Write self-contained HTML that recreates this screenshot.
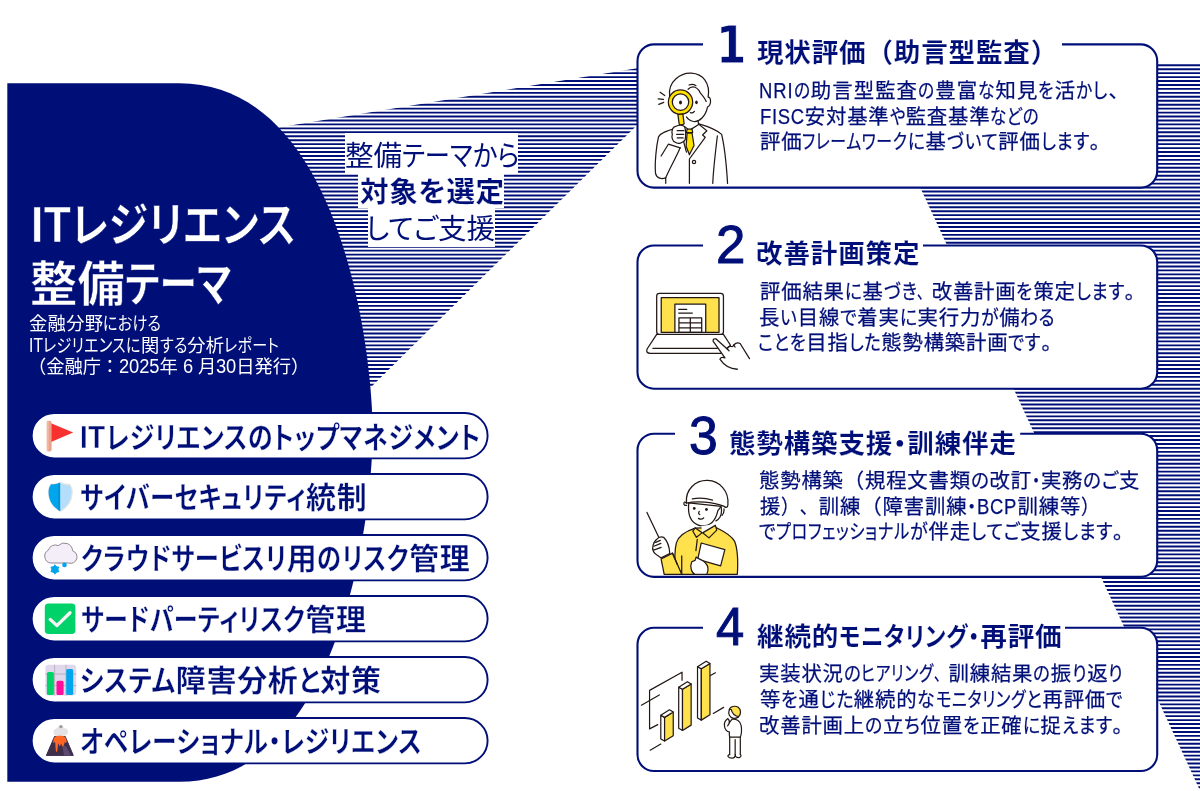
<!DOCTYPE html>
<html lang="ja"><head><meta charset="utf-8"><title>ITレジリエンス整備テーマ</title>
<style>
*{box-sizing:border-box}
html,body{margin:0;padding:0;background:#fff}
.t{will-change:transform;text-spacing-trim:space-all}
body{width:1200px;height:791px;position:relative;overflow:hidden;font-family:'Liberation Sans','Noto Sans CJK JP',sans-serif;color:#000f78}
.t{position:absolute;white-space:nowrap;line-height:1;margin:0;font-weight:400}
.s{display:inline-block;transform-origin:0 50%}
.p{font-feature-settings:'palt' 1}
.l{font-size:1.065em}
.lab{position:absolute;background:#fff}
svg{position:absolute;overflow:visible}
</style></head>
<body>
<svg width="1200" height="791" viewBox="0 0 1200 791" style="left:0;top:0" aria-hidden="true"><defs><clipPath id="sc"><path d="M200 140.4 640 67.8V122.2L300 457ZM862.6 63.3H1201V791H1200.2Z"/></clipPath></defs><path d="M0 57.36H1200M0 61.30H1200M0 65.25H1200M0 69.19H1200M0 73.14H1200M0 77.08H1200M0 81.03H1200M0 84.97H1200M0 88.92H1200M0 92.86H1200M0 96.81H1200M0 100.75H1200M0 104.69H1200M0 108.64H1200M0 112.58H1200M0 116.53H1200M0 120.47H1200M0 124.42H1200M0 128.36H1200M0 132.31H1200M0 136.25H1200M0 140.20H1200M0 144.14H1200M0 148.09H1200M0 152.03H1200M0 155.98H1200M0 159.92H1200M0 163.87H1200M0 167.81H1200M0 171.76H1200M0 175.70H1200M0 179.65H1200M0 183.59H1200M0 187.54H1200M0 191.48H1200M0 195.43H1200M0 199.37H1200M0 203.32H1200M0 207.26H1200M0 211.21H1200M0 215.15H1200M0 219.10H1200M0 223.04H1200M0 226.99H1200M0 230.93H1200M0 234.88H1200M0 238.82H1200M0 242.77H1200M0 246.71H1200M0 250.66H1200M0 254.60H1200M0 258.55H1200M0 262.49H1200M0 266.44H1200M0 270.38H1200M0 274.33H1200M0 278.27H1200M0 282.22H1200M0 286.16H1200M0 290.11H1200M0 294.05H1200M0 298.00H1200M0 301.94H1200M0 305.89H1200M0 309.83H1200M0 313.78H1200M0 317.72H1200M0 321.67H1200M0 325.61H1200M0 329.56H1200M0 333.50H1200M0 337.45H1200M0 341.39H1200M0 345.34H1200M0 349.28H1200M0 353.23H1200M0 357.17H1200M0 361.12H1200M0 365.06H1200M0 369.01H1200M0 372.95H1200M0 376.90H1200M0 380.84H1200M0 384.79H1200M0 388.73H1200M0 392.68H1200M0 396.62H1200M0 400.57H1200M0 404.51H1200M0 408.46H1200M0 412.40H1200M0 416.35H1200M0 420.29H1200M0 424.24H1200M0 428.18H1200M0 432.13H1200M0 436.07H1200M0 440.02H1200M0 443.96H1200M0 447.91H1200M0 451.85H1200M0 455.80H1200M0 459.74H1200M0 463.69H1200M0 467.63H1200M0 471.58H1200M0 475.52H1200M0 479.47H1200M0 483.41H1200M0 487.36H1200M0 491.30H1200M0 495.25H1200M0 499.19H1200M0 503.14H1200M0 507.08H1200M0 511.03H1200M0 514.97H1200M0 518.92H1200M0 522.86H1200M0 526.81H1200M0 530.75H1200M0 534.70H1200M0 538.64H1200M0 542.59H1200M0 546.53H1200M0 550.48H1200M0 554.42H1200M0 558.37H1200M0 562.31H1200M0 566.26H1200M0 570.21H1200M0 574.15H1200M0 578.10H1200M0 582.04H1200M0 585.99H1200M0 589.93H1200M0 593.88H1200M0 597.82H1200M0 601.77H1200M0 605.71H1200M0 609.66H1200M0 613.60H1200M0 617.55H1200M0 621.49H1200M0 625.44H1200M0 629.38H1200M0 633.33H1200M0 637.27H1200M0 641.22H1200M0 645.16H1200M0 649.11H1200M0 653.05H1200M0 657.00H1200M0 660.94H1200M0 664.89H1200M0 668.83H1200M0 672.78H1200M0 676.72H1200M0 680.67H1200M0 684.61H1200M0 688.56H1200M0 692.50H1200M0 696.45H1200M0 700.39H1200M0 704.34H1200M0 708.28H1200M0 712.23H1200M0 716.17H1200M0 720.12H1200M0 724.06H1200M0 728.01H1200M0 731.95H1200M0 735.90H1200M0 739.84H1200M0 743.79H1200M0 747.73H1200M0 751.68H1200M0 755.62H1200M0 759.57H1200M0 763.51H1200M0 767.46H1200M0 771.40H1200M0 775.35H1200M0 779.29H1200M0 783.24H1200M0 787.18H1200M0 791.13H1200" stroke="#000f78" stroke-width="1.9" fill="none" clip-path="url(#sc)"/></svg>
<svg width="1200" height="791" viewBox="0 0 1200 791" style="left:0;top:0"><path d="M7.3 83.2H179.4C338.9 83.2 372.6 346.3 372.6 432.5C372.6 518.7 338.9 781.8 179.4 781.8H7.3Z" fill="#000f78"/></svg>
<section>
<h1 class="t" style="left:30.80px;top:200.00px;font-size:47.2px;font-weight:700;letter-spacing:0.40px;color:#fff;-webkit-text-stroke:0.5px #000f78;"><span class="s l" style="transform:scaleX(0.8800);margin-right:-5.46px">IT</span><span class="s p" style="transform:scaleX(0.8509);margin-right:-39.50px">レジリエンス</span></h1>
<h1 class="t" style="left:29.65px;top:261.00px;font-size:47.2px;font-weight:700;letter-spacing:0.40px;color:#fff;-webkit-text-stroke:0.5px #000f78;">整備<span class="s p" style="transform:scaleX(0.7980);margin-right:-27.10px">テーマ</span></h1>
<p class="t" style="left:29.25px;top:315.00px;font-size:18.3px;font-weight:400;letter-spacing:0.30px;color:#fff;">金融分野<span class="s p" style="transform:scaleX(0.8250);margin-right:-12.35px">における</span></p>
<p class="t" style="left:29.40px;top:336.00px;font-size:18.3px;font-weight:400;letter-spacing:0.30px;color:#fff;"><span class="s l" style="transform:scaleX(0.8000);margin-right:-3.58px">IT</span><span class="s p" style="transform:scaleX(0.8233);margin-right:-17.77px">レジリエンス</span><span class="s p" style="transform:scaleX(0.8233);margin-right:-3.16px">に</span>関<span class="s p" style="transform:scaleX(0.8233);margin-right:-5.92px">する</span>分析<span class="s p" style="transform:scaleX(0.8233);margin-right:-11.84px">レポート</span></p>
<p class="t" style="left:28.35px;top:357.00px;font-size:18.3px;font-weight:400;letter-spacing:-0.07px;color:#fff;">（金融庁：<span class="s l" style="transform:scaleX(0.9400);margin-right:-2.58px">2025</span>年<span class="s l" style="transform:scaleX(0.9400);margin-right:-1.29px">&nbsp;6&nbsp;</span>月<span class="s l" style="transform:scaleX(0.9400);margin-right:-1.29px">30</span>日発行）</p>
</section>
<div class="lab" style="left:344.9px;top:132.7px;width:173.4px;height:40.2px"></div>
<div class="lab" style="left:358px;top:172.4px;width:146.4px;height:35.7px"></div>
<div class="lab" style="left:367.6px;top:207.9px;width:127.5px;height:39.1px"></div>
<p class="t" style="left:345.15px;top:142.00px;font-size:28.6px;font-weight:400;letter-spacing:0.00px;color:#000f78;">整備<span class="s p" style="transform:scaleX(0.8835);margin-right:-9.29px">テーマ</span><span class="s p" style="transform:scaleX(0.8835);margin-right:-6.11px">から</span></p>
<p class="t" style="left:359.60px;top:178.00px;font-size:28.6px;font-weight:700;letter-spacing:0.59px;color:#000f78;-webkit-text-stroke:0.2px #fff;">対象<span class="p">を</span>選定</p>
<p class="t" style="left:365.55px;top:215.00px;font-size:28.6px;font-weight:400;letter-spacing:0.00px;color:#000f78;"><span class="s p" style="transform:scaleX(0.9626);margin-right:-2.80px">してご</span>支援</p>
<ul style="list-style:none;margin:0;padding:0">
<li><svg class="pillbg" width="462" height="52" viewBox="29 410 462 52" style="left:29px;top:410px" aria-hidden="true"><rect x="31.7" y="412.95" width="455.9" height="45.4" rx="22.7" fill="#fff" stroke="#000f78" stroke-width="1.9"/></svg><svg width="32" height="36" viewBox="44 418 32 36" style="left:44px;top:418px" aria-hidden="true"><path d="M51 423.3 73.2 432.4 51 441.9Z" fill="#f8312f"/><rect x="46.8" y="420.8" width="4.8" height="30.6" rx="2.2" fill="#e9a08c"/><rect x="46.8" y="420.8" width="2" height="30.6" rx="1" fill="#f1b8a4"/></svg><span class="t" style="left:79.75px;top:422.00px;font-size:30px;font-weight:700;letter-spacing:0.70px;color:#000f78;-webkit-text-stroke:0.3px #fff;"><span class="s l" style="transform:scaleX(0.8600);margin-right:-4.17px">IT</span><span class="s p" style="transform:scaleX(0.8291);margin-right:-29.24px">レジリエンス</span><span class="s p" style="transform:scaleX(0.8291);margin-right:-5.17px">の</span><span class="s p" style="transform:scaleX(0.8291);margin-right:-42.84px">トップマネジメント</span></span></li>
<li><svg class="pillbg" width="462" height="52" viewBox="29 471 462 52" style="left:29px;top:471px" aria-hidden="true"><rect x="31.7" y="473.95" width="455.9" height="45.4" rx="22.7" fill="#fff" stroke="#000f78" stroke-width="1.9"/></svg><svg width="30" height="34" viewBox="46 480 30 34" style="left:46px;top:480px" aria-hidden="true"><clipPath id="shc"><path d="M60.4 482.5C58.6 483.6 54.5 484.4 51 484.3C49.4 486.5 48.5 489.5 48.6 492.5C48.8 500.5 52.5 507 60.4 511.2C68.3 507 72 500.5 72.2 492.5C72.3 489.5 71.4 486.5 69.8 484.3C66.3 484.4 62.2 483.6 60.4 482.5Z"/></clipPath><clipPath id="shl"><rect x="46" y="480" width="14.4" height="34"/></clipPath><path d="M60.4 482.5C58.6 483.6 54.5 484.4 51 484.3C49.4 486.5 48.5 489.5 48.6 492.5C48.8 500.5 52.5 507 60.4 511.2C68.3 507 72 500.5 72.2 492.5C72.3 489.5 71.4 486.5 69.8 484.3C66.3 484.4 62.2 483.6 60.4 482.5Z" fill="#b4defb" stroke="#ece6e0" stroke-width="1.2"/><path d="M60.4 482.5C58.6 483.6 54.5 484.4 51 484.3C49.4 486.5 48.5 489.5 48.6 492.5C48.8 500.5 52.5 507 60.4 511.2C68.3 507 72 500.5 72.2 492.5C72.3 489.5 71.4 486.5 69.8 484.3C66.3 484.4 62.2 483.6 60.4 482.5Z" fill="#00a6ed" clip-path="url(#shl)"/><rect x="58" y="483" width="2.4" height="28" fill="#0095d9" clip-path="url(#shc)"/><path d="M60.7 483V511" stroke="#e4f3fd" stroke-width=".6"/></svg><span class="t" style="left:80.25px;top:483.00px;font-size:30px;font-weight:700;letter-spacing:0.70px;color:#000f78;-webkit-text-stroke:0.3px #fff;"><span class="s p" style="transform:scaleX(0.8115);margin-right:-52.50px">サイバーセキュリティ</span>統制</span></li>
<li><svg class="pillbg" width="462" height="52" viewBox="29 532 462 52" style="left:29px;top:532px" aria-hidden="true"><rect x="31.7" y="534.95" width="455.9" height="45.4" rx="22.7" fill="#fff" stroke="#000f78" stroke-width="1.9"/></svg><svg width="38" height="36" viewBox="42 540 38 36" style="left:42px;top:540px" aria-hidden="true"><path d="M50.6 563A6.9 6.9 0 0 1 48.4 550.1A7.2 7.2 0 0 1 58.3 545.6A8.3 8.3 0 0 1 72.6 550.8A6.2 6.2 0 0 1 68.6 563Z" fill="#f3eef8" stroke="#8f8796" stroke-width="1"/><circle cx="54.9" cy="569.4" r="3.7" fill="#00a6ed"/><path d="M54.9 565.4V573.4M51.5 567.4 58.3 571.4M51.5 571.4 58.3 567.4" stroke="#00a6ed" stroke-width="1.8" stroke-linecap="round"/><circle cx="64.5" cy="564.9" r="2.3" fill="#00a6ed"/></svg><span class="t" style="left:80.75px;top:544.00px;font-size:30px;font-weight:700;letter-spacing:0.70px;color:#000f78;-webkit-text-stroke:0.3px #fff;"><span class="s p" style="transform:scaleX(0.8081);margin-right:-48.86px">クラウドサービスリ</span>用<span class="s p" style="transform:scaleX(0.8081);margin-right:-5.81px">の</span><span class="s p" style="transform:scaleX(0.8081);margin-right:-15.93px">リスク</span>管理</span></li>
<li><svg class="pillbg" width="462" height="52" viewBox="29 593 462 52" style="left:29px;top:593px" aria-hidden="true"><rect x="31.7" y="595.95" width="455.9" height="45.4" rx="22.7" fill="#fff" stroke="#000f78" stroke-width="1.9"/></svg><svg width="32" height="32" viewBox="44 603 32 32" style="left:44px;top:603px" aria-hidden="true"><rect x="44.8" y="603.5" width="30.6" height="30.4" rx="3.6" fill="#00d26a"/><path d="M50.2 619.4 56.9 625.6 70 612.7" fill="none" stroke="#f4f4f4" stroke-width="3.3" stroke-linecap="round" stroke-linejoin="round"/></svg><span class="t" style="left:80.75px;top:605.00px;font-size:30px;font-weight:700;letter-spacing:0.70px;color:#000f78;-webkit-text-stroke:0.3px #fff;"><span class="s p" style="transform:scaleX(0.7988);margin-right:-56.50px">サードパーティリスク</span>管理</span></li>
<li><svg class="pillbg" width="462" height="52" viewBox="29 654 462 52" style="left:29px;top:654px" aria-hidden="true"><rect x="31.7" y="656.95" width="455.9" height="45.4" rx="22.7" fill="#fff" stroke="#000f78" stroke-width="1.9"/></svg><svg width="32" height="32" viewBox="45 664 32 32" style="left:45px;top:664px" aria-hidden="true"><rect x="45.4" y="664.7" width="30.8" height="30.8" rx="3.4" fill="#e1d8ec"/><path d="M54.6 664.7V695.5M66 664.7V695.5M45.4 674H76.2M45.4 685.6H76.2" stroke="#b4acbc" stroke-width=".9"/><rect x="46.9" y="672" width="7" height="23" rx="1.6" fill="#00d26a"/><rect x="56.5" y="680.8" width="7.1" height="14.2" rx="1.6" fill="#ff0f9c"/><rect x="66.2" y="669" width="7" height="26" rx="1.6" fill="#00a6ed"/></svg><span class="t" style="left:80.25px;top:666.00px;font-size:30px;font-weight:700;letter-spacing:0.70px;color:#000f78;-webkit-text-stroke:0.3px #fff;"><span class="s p" style="transform:scaleX(0.8456);margin-right:-17.48px">システム</span>障害分析<span class="s p" style="transform:scaleX(0.8456);margin-right:-3.97px">と</span>対策</span></li>
<li><svg class="pillbg" width="462" height="52" viewBox="29 715 462 52" style="left:29px;top:715px" aria-hidden="true"><rect x="31.7" y="717.95" width="455.9" height="45.4" rx="22.7" fill="#fff" stroke="#000f78" stroke-width="1.9"/></svg><svg width="30" height="33" viewBox="45 724 30 33" style="left:45px;top:724px" aria-hidden="true"><path d="M46.4 755.4 54.6 736.4H65.2L73.3 755.4Z" fill="#433b6b" stroke="#433b6b" stroke-width="1" stroke-linejoin="round"/><path d="M46.4 755.4 54.6 736.4H59L52 755.4Z" fill="#3b2d44"/><path d="M46.4 755.4 54.6 736.4H65.2L73.3 755.4Z" fill="#3f2f4b"/><path d="M62 744 66.5 747 71 755.4H64Z" fill="#5d4a6e"/><path d="M53.8 738.5C55 734.6 64.8 734.6 66 738.5L66.8 741.5C66.8 743 65 743 64.8 741.8C64.6 743.5 63.6 746.5 62.6 746.5C61.6 746.5 61.8 744 61.2 744C60.4 744 60.6 746 59.6 746C58.8 746 59 743.5 58.4 743.5C57.6 743.5 58 752 56.6 752C55.2 752 55.8 742 54.8 742C54 742 53.6 743.5 53 742.5Z" fill="#ff6723"/><path d="M55.5 735.2A3.6 3.6 0 0 1 56.5 728.4A4.6 4.6 0 0 1 64.6 728.2A3.6 3.6 0 0 1 65.6 735.2Z" fill="#e4e2e5"/><circle cx="60.9" cy="726.6" r="1.7" fill="#9b9b9b"/></svg><span class="t" style="left:79.85px;top:727.00px;font-size:30px;font-weight:700;letter-spacing:0.70px;color:#000f78;-webkit-text-stroke:0.3px #fff;"><span class="s p" style="transform:scaleX(0.8222);margin-right:-73.95px">オペレーショナル・レジリエンス</span></span></li>
</ul>
<article><svg class="cardbg" width="530" height="152" viewBox="633 41 530 152" style="left:633px;top:41px" aria-hidden="true"><rect x="637.5" y="44.4" width="519.7" height="143.2" rx="16.5" fill="#fff"/><path d="M1062 44.4H1140.7A16.5 16.5 0 0 1 1157.2 60.9V171.1A16.5 16.5 0 0 1 1140.7 187.6H654.0A16.5 16.5 0 0 1 637.5 171.1V60.9A16.5 16.5 0 0 1 654.0 44.4H703" fill="none" stroke="#000f78" stroke-width="2.1"/></svg>
<svg width="100" height="130" viewBox="645 60 100 130" style="left:645px;top:60px" aria-hidden="true"><g transform="translate(645 60) scale(.16447)" fill="none" stroke="#231815" stroke-width="7.5" stroke-linecap="round" stroke-linejoin="round">
<path d="M328 388C370 400 440 428 466 452C482 520 496 650 502 752H66C60 640 66 520 82 468C92 444 130 432 176 418L250 398Z" fill="#fff" stroke="none"/>
<path d="M150 222C136 128 222 76 282 80C352 84 398 140 384 226C402 226 406 272 380 286C368 342 330 378 296 374C280 372 262 360 250 345L160 300Z" fill="#fff" stroke="none"/><path d="M150 222C136 128 222 76 282 80C352 84 398 140 384 226C402 226 406 272 380 286C368 342 330 378 296 374C280 372 262 360 252 346"/>
<path d="M262 178C288 150 322 166 336 200C350 216 366 236 372 252M268 152C282 146 298 148 310 156"/>
<path d="M322 368L326 392"/>
<path d="M246 408 270 428 326 392" fill="#fff"/>
<path d="M256 420H286L290 442H252Z" fill="#ffe100"/>
<path d="M256 444H286L298 520 270 576 250 524Z" fill="#ffe100"/>
<path d="M326 390 376 430 350 456 366 470 270 602M270 602V750"/>
<path d="M240 470 236 500 252 560"/>
<path d="M328 388C370 400 440 428 466 452C482 520 496 650 502 750"/>
<path d="M440 462C428 560 416 660 412 750"/>
<path d="M176 418C130 432 92 444 82 468C70 520 58 620 64 690C70 722 104 726 126 716M126 716V750"/>
<path d="M98 584 142 512 214 534"/>
<path d="M126 716C150 660 190 590 214 534" />
<circle cx="216" cy="256" r="74" fill="#ffe100"/>
<circle cx="216" cy="256" r="50" fill="#fff"/>
<path d="M200 332 208 390Q222 400 238 388L230 328Z" fill="#ffe100"/>
<path d="M186 404C168 408 160 430 166 452C160 470 168 496 184 500C200 512 232 506 244 486C250 460 248 420 240 404C224 392 200 396 186 404Z" fill="#fff"/>
<path d="M196 430H236M192 452H236M196 474H232"/>
<ellipse cx="216" cy="258" rx="9" ry="12" fill="#231815" stroke="none"/>
<ellipse cx="313" cy="258" rx="8" ry="11" fill="#231815" stroke="none"/>
<path d="M276 320Q290 326 300 312"/>
<circle cx="298" cy="620" r="10" fill="#fff"/>
<path d="M92 196 120 216M80 236 112 240M84 270 114 258"/>
</g></svg>
<span class="t" style="left:715.80px;top:20.00px;font-size:48.7px;font-weight:700;letter-spacing:0.00px;color:#000f78;font-family:'DejaVu Sans Condensed','Liberation Sans',sans-serif;-webkit-text-stroke:0.8px #fff;"><span class="s l" style="transform:scaleX(0.9400);margin-right:-1.95px">1</span></span>
<h2 class="t" style="left:757.10px;top:40.00px;font-size:26.6px;font-weight:700;letter-spacing:0.78px;color:#000f78;-webkit-text-stroke:0.15px #fff;">現状評価（助言型監査）</h2>
<p class="t" style="left:759.40px;top:80.00px;font-size:20.4px;font-weight:400;letter-spacing:1.10px;color:#000f78;-webkit-text-stroke:0.25px #000f78;"><span class="s l" style="transform:scaleX(0.8500);margin-right:-6.11px">NRI</span><span class="s p" style="transform:scaleX(0.8209);margin-right:-3.72px">の</span>助言型監査<span class="s p" style="transform:scaleX(0.8209);margin-right:-3.72px">の</span>豊富<span class="s p" style="transform:scaleX(0.8209);margin-right:-3.78px">な</span>知見<span class="s p" style="transform:scaleX(0.8209);margin-right:-3.57px">を</span>活<span class="s p" style="transform:scaleX(0.8209);margin-right:-7.01px">かし</span>、</p>
<p class="t" style="left:759.60px;top:106.00px;font-size:20.4px;font-weight:400;letter-spacing:0.80px;color:#000f78;-webkit-text-stroke:0.25px #000f78;"><span class="s l" style="transform:scaleX(0.8500);margin-right:-7.90px">FISC</span>安対基準<span class="s p" style="transform:scaleX(0.8073);margin-right:-3.85px">や</span>監査基準<span class="s p" style="transform:scaleX(0.8073);margin-right:-11.75px">などの</span></p>
<p class="t" style="left:759.65px;top:132.00px;font-size:20.4px;font-weight:400;letter-spacing:0.80px;color:#000f78;-webkit-text-stroke:0.25px #000f78;">評価<span class="s p" style="transform:scaleX(0.7776);margin-right:-30.17px">フレームワーク</span><span class="s p" style="transform:scaleX(0.8640);margin-right:-2.78px">に</span>基<span class="s p" style="transform:scaleX(0.8640);margin-right:-8.09px">づいて</span>評価<span class="s p" style="transform:scaleX(0.8640);margin-right:-7.73px">します</span>。</p>
</article>
<article><svg class="cardbg" width="530" height="152" viewBox="633 242 530 152" style="left:633px;top:242px" aria-hidden="true"><rect x="637.5" y="245.5" width="519.7" height="143.2" rx="16.5" fill="#fff"/><path d="M923 245.5H1140.7A16.5 16.5 0 0 1 1157.2 262.0V372.2A16.5 16.5 0 0 1 1140.7 388.7H654.0A16.5 16.5 0 0 1 637.5 372.2V262.0A16.5 16.5 0 0 1 654.0 245.5H703" fill="none" stroke="#000f78" stroke-width="2.1"/></svg>
<svg width="120" height="100" viewBox="640 280 120 100" style="left:640px;top:280px" aria-hidden="true"><g transform="translate(640 280) scale(.12642)" fill="none" stroke="#231815" stroke-width="10" stroke-linecap="round" stroke-linejoin="round">
<path d="M132 430 56 546Q44 580 82 580H640L716 516 660 430Z" fill="#fff"/>
<rect x="132" y="105" width="528" height="326" rx="22" fill="#fff"/>
<rect x="168" y="140" width="457" height="275" fill="#ffe14d"/>
<rect x="276" y="190" width="244" height="225" fill="#fff"/>
<path d="M306 232H370M306 262H414"/>
<path d="M308 300H488V415H308ZM398 300V415M308 340H488M308 378H488"/>
<path d="M102 540H612"/>
<path d="M578 484Q578 460 602 466L690 546Q700 520 722 526Q736 530 742 514Q764 490 792 502L866 622L770 706Q680 700 632 626Q640 606 672 616Z" fill="#fff" stroke="none"/>
<path d="M866 622 792 502Q764 490 742 514Q736 530 722 526Q700 520 690 546L602 466Q578 460 578 484L672 616Q640 606 632 626Q680 700 770 706"/>
<path d="M690 546 704 560M742 514 752 530"/>
</g></svg>
<span class="t" style="left:716.05px;top:218.00px;font-size:50.04px;font-weight:400;letter-spacing:0.00px;color:#000f78;-webkit-text-stroke:1.0px #000f78;"><span class="s l" style="transform:scaleX(0.9923);margin-right:-0.23px">2</span></span>
<h2 class="t" style="left:755.50px;top:241.00px;font-size:26.6px;font-weight:700;letter-spacing:0.80px;color:#000f78;-webkit-text-stroke:0.15px #fff;">改善計画策定</h2>
<p class="t" style="left:759.65px;top:282.00px;font-size:20.4px;font-weight:400;letter-spacing:0.80px;color:#000f78;-webkit-text-stroke:0.25px #000f78;">評価結果<span class="s p" style="transform:scaleX(0.8611);margin-right:-2.84px">に</span>基<span class="s p" style="transform:scaleX(0.8611);margin-right:-5.43px">づき</span><span class="s" style="transform:scaleX(0.6800);margin-right:-6.78px">、</span>改善計画<span class="s p" style="transform:scaleX(0.8611);margin-right:-2.73px">を</span>策定<span class="s p" style="transform:scaleX(0.8611);margin-right:-7.90px">します</span>。</p>
<p class="t" style="left:759.20px;top:308.00px;font-size:20.4px;font-weight:400;letter-spacing:0.80px;color:#000f78;-webkit-text-stroke:0.25px #000f78;">長<span class="s p" style="transform:scaleX(0.8731);margin-right:-2.55px">い</span>目線<span class="s p" style="transform:scaleX(0.8731);margin-right:-2.49px">で</span>着実<span class="s p" style="transform:scaleX(0.8731);margin-right:-2.59px">に</span>実行力<span class="s p" style="transform:scaleX(0.8731);margin-right:-2.64px">が</span>備<span class="s p" style="transform:scaleX(0.8731);margin-right:-5.13px">わる</span></p>
<p class="t" style="left:758.35px;top:333.00px;font-size:20.4px;font-weight:400;letter-spacing:0.80px;color:#000f78;-webkit-text-stroke:0.25px #000f78;"><span class="s p" style="transform:scaleX(0.8504);margin-right:-8.50px">ことを</span>目指<span class="s p" style="transform:scaleX(0.8504);margin-right:-5.73px">した</span>態勢構築計画<span class="s p" style="transform:scaleX(0.8504);margin-right:-5.82px">です</span>。</p>
</article>
<article><svg class="cardbg" width="530" height="152" viewBox="633 430 530 152" style="left:633px;top:430px" aria-hidden="true"><rect x="637.5" y="433.7" width="519.7" height="143.2" rx="16.5" fill="#fff"/><path d="M1020.2 433.7H1140.7A16.5 16.5 0 0 1 1157.2 450.2V560.4A16.5 16.5 0 0 1 1140.7 576.9H654.0A16.5 16.5 0 0 1 637.5 560.4V450.2A16.5 16.5 0 0 1 654.0 433.7H675" fill="none" stroke="#000f78" stroke-width="2.1"/></svg>
<svg width="110" height="108" viewBox="640 470 110 108" style="left:640px;top:470px" aria-hidden="true"><g transform="translate(640 470) scale(.13908)" fill="none" stroke="#231815" stroke-width="9" stroke-linecap="round" stroke-linejoin="round">
<path d="M396 418C330 440 280 470 262 522C246 580 250 680 256 750H700C706 650 700 560 680 512C652 462 592 436 544 412Z" fill="#ffe14d"/>
<path d="M152 640 234 598 300 750H174Z" fill="#ffe14d"/>
<path d="M300 618V746M234 598 268 680"/>
<path d="M350 250C344 320 360 384 440 402C500 406 542 372 560 292L584 262 350 236Z" fill="#fff"/>
<path d="M440 402 448 450 500 440 520 392Z" fill="#fff" stroke="none"/>
<path d="M396 416 446 452 406 484 380 440Z" fill="#ffe14d"/>
<path d="M542 398 552 432 496 488 450 452Z" fill="#ffe14d"/>
<path d="M412 498 402 580"/>
<path d="M584 268C592 320 572 352 546 366M604 280C606 300 600 316 590 326"/>
<path d="M334 238C324 140 400 72 486 75C572 78 642 150 632 252C628 274 616 272 606 262C520 226 400 222 334 238Z" fill="#fff"/>
<path d="M334 238Q312 222 316 246Q320 258 336 254"/>
<path d="M376 208C420 200 480 204 522 216"/>
<circle cx="390" cy="276" r="10" fill="#231815" stroke="none"/><circle cx="478" cy="284" r="10" fill="#231815" stroke="none"/>
<path d="M426 298Q416 314 430 320M420 348Q440 360 458 345"/>
<path d="M440 525 610 572 580 690 415 642Z" fill="#fff"/>
<path d="M372 660C356 700 372 742 396 750H480C496 720 490 684 470 668C452 644 424 644 404 626L396 650Z" fill="#fff"/>
<path d="M50 305 136 486"/>
<path d="M118 500C96 520 84 560 96 584C104 604 130 616 152 632L214 600C212 560 196 510 170 484C150 476 130 486 118 500Z" fill="#fff"/>
<path d="M112 520 146 506M100 548 150 528M98 576 152 556"/>
</g></svg>
<span class="t" style="left:689.20px;top:409.00px;font-size:49.98px;font-weight:400;letter-spacing:0.00px;color:#000f78;-webkit-text-stroke:1.0px #000f78;"><span class="s l" style="transform:scaleX(0.9704);margin-right:-0.88px">3</span></span>
<h2 class="t" style="left:728.90px;top:431.00px;font-size:26.6px;font-weight:700;letter-spacing:0.77px;color:#000f78;-webkit-text-stroke:0.15px #fff;">態勢構築支援<span class="p">・</span>訓練伴走</h2>
<p class="t" style="left:759.45px;top:471.00px;font-size:20.4px;font-weight:400;letter-spacing:0.80px;color:#000f78;-webkit-text-stroke:0.25px #000f78;">態勢構築（規程文書類<span class="s p" style="transform:scaleX(0.9095);margin-right:-1.85px">の</span>改訂<span class="s p" style="transform:scaleX(0.8185);margin-right:-2.00px">・</span>実務<span class="s p" style="transform:scaleX(0.9095);margin-right:-3.55px">のご</span>支</p>
<p class="t" style="left:759.50px;top:496.00px;font-size:20.4px;font-weight:400;letter-spacing:0.86px;color:#000f78;-webkit-text-stroke:0.25px #000f78;">援<span class="s" style="transform:scaleX(0.8800);margin-right:-5.10px">）、</span>訓練（障害訓練<span class="s p" style="transform:scaleX(0.9000);margin-right:-1.11px">・</span><span class="s l" style="transform:scaleX(0.8500);margin-right:-7.09px">BCP</span>訓練等<span class="s" style="transform:scaleX(0.8800);margin-right:-2.55px">）</span></p>
<p class="t" style="left:759.45px;top:522.00px;font-size:20.4px;font-weight:400;letter-spacing:0.80px;color:#000f78;-webkit-text-stroke:0.25px #000f78;"><span class="s p" style="transform:scaleX(0.8842);margin-right:-2.27px">で</span><span class="s p" style="transform:scaleX(0.7958);margin-right:-34.35px">プロフェッショナル</span><span class="s p" style="transform:scaleX(0.8842);margin-right:-2.40px">が</span>伴走<span class="s p" style="transform:scaleX(0.8842);margin-right:-6.46px">してご</span>支援<span class="s p" style="transform:scaleX(0.8842);margin-right:-6.59px">します</span>。</p>
</article>
<article><svg class="cardbg" width="530" height="152" viewBox="633 624 530 152" style="left:633px;top:624px" aria-hidden="true"><rect x="637.5" y="627.8" width="519.7" height="143.2" rx="16.5" fill="#fff"/><path d="M1065 627.8H1140.7A16.5 16.5 0 0 1 1157.2 644.3V754.5A16.5 16.5 0 0 1 1140.7 771.0H654.0A16.5 16.5 0 0 1 637.5 754.5V644.3A16.5 16.5 0 0 1 654.0 627.8H703" fill="none" stroke="#000f78" stroke-width="2.1"/></svg>
<svg width="120" height="120" viewBox="635 650 120 120" style="left:635px;top:650px" aria-hidden="true"><g transform="translate(635 650) scale(.15175)" fill="none" stroke="#231815" stroke-width="8" stroke-linecap="round" stroke-linejoin="round">
<path d="M310 200V146L96 266V520L150 492"/>
<path d="M42 364 160 296M476 180 530 150M516 418 584 378M100 660 170 620"/>
<path d="M170 430L195 444V600L170 586Z" fill="#fff"/><path d="M195 444L252 409V565L195 600Z" fill="#ffe14d"/><path d="M170 430L227 394L252 409L195 444Z" fill="#fff"/>
<path d="M288 245L313 259V530L288 516Z" fill="#fff"/><path d="M313 259L370 224V495L313 530Z" fill="#ffe14d"/><path d="M288 245L345 209L370 224L313 259Z" fill="#fff"/>
<path d="M412 110L437 124V462L412 448Z" fill="#fff"/><path d="M437 124L494 89V427L437 462Z" fill="#ffe14d"/><path d="M412 110L469 74L494 89L437 124Z" fill="#fff"/>
<path d="M622 392C626 372 660 364 680 378C700 392 700 424 682 440C676 446 668 448 660 448C640 440 620 420 622 392Z" fill="#ffe14d"/>
<path d="M622 392C612 420 622 444 650 450C666 452 676 446 682 440C664 436 640 420 634 392Z" fill="#fff"/>
<path d="M640 456C668 452 696 470 700 500C704 530 700 560 694 574H624C620 560 622 548 622 540C606 540 590 520 590 500C586 480 598 462 612 452C620 460 626 472 620 486L610 500C616 486 628 470 640 456Z" fill="#fff"/>
<path d="M624 574V690M694 574V690M660 590V690"/>
<path d="M624 690C604 692 610 712 640 712C654 712 660 700 660 690M662 690C656 704 672 712 690 708C702 704 698 690 694 690" fill="#fff"/>
</g></svg>
<span class="t" style="left:716.15px;top:600.00px;font-size:49.98px;font-weight:400;letter-spacing:0.00px;color:#000f78;-webkit-text-stroke:1.0px #000f78;"><span class="s l" style="transform:scaleX(0.9535);margin-right:-1.38px">4</span></span>
<h2 class="t" style="left:756.50px;top:624.00px;font-size:26.6px;font-weight:700;letter-spacing:0.80px;color:#000f78;-webkit-text-stroke:0.15px #fff;">継続的<span class="s p" style="transform:scaleX(0.8457);margin-right:-25.75px">モニタリング・</span>再評価</h2>
<p class="t" style="left:759.40px;top:664.00px;font-size:20.4px;font-weight:400;letter-spacing:0.80px;color:#000f78;-webkit-text-stroke:0.25px #000f78;">実装状況<span class="s p" style="transform:scaleX(0.8552);margin-right:-2.96px">の</span><span class="s p" style="transform:scaleX(0.7697);margin-right:-21.79px">ヒアリング</span><span class="s" style="transform:scaleX(0.6800);margin-right:-6.78px">、</span>訓練結果<span class="s p" style="transform:scaleX(0.8552);margin-right:-2.96px">の</span>振<span class="s p" style="transform:scaleX(0.8552);margin-right:-2.57px">り</span>返<span class="s p" style="transform:scaleX(0.8552);margin-right:-2.57px">り</span></p>
<p class="t" style="left:759.70px;top:690.00px;font-size:20.4px;font-weight:400;letter-spacing:0.80px;color:#000f78;-webkit-text-stroke:0.25px #000f78;">等<span class="s p" style="transform:scaleX(0.8786);margin-right:-2.38px">を</span>通<span class="s p" style="transform:scaleX(0.8786);margin-right:-4.72px">じた</span>継続的<span class="s p" style="transform:scaleX(0.8786);margin-right:-2.53px">な</span><span class="s p" style="transform:scaleX(0.7908);margin-right:-23.87px">モニタリング</span><span class="s p" style="transform:scaleX(0.8786);margin-right:-2.28px">と</span>再評価<span class="s p" style="transform:scaleX(0.8786);margin-right:-2.38px">で</span></p>
<p class="t" style="left:759.15px;top:716.00px;font-size:20.4px;font-weight:400;letter-spacing:0.80px;color:#000f78;-webkit-text-stroke:0.25px #000f78;">改善計画上<span class="s p" style="transform:scaleX(0.8759);margin-right:-2.54px">の</span>立<span class="s p" style="transform:scaleX(0.8759);margin-right:-2.33px">ち</span>位置<span class="s p" style="transform:scaleX(0.8759);margin-right:-2.43px">を</span>正確<span class="s p" style="transform:scaleX(0.8759);margin-right:-2.54px">に</span>捉<span class="s p" style="transform:scaleX(0.8759);margin-right:-7.21px">えます</span>。</p>
</article>
</body></html>
